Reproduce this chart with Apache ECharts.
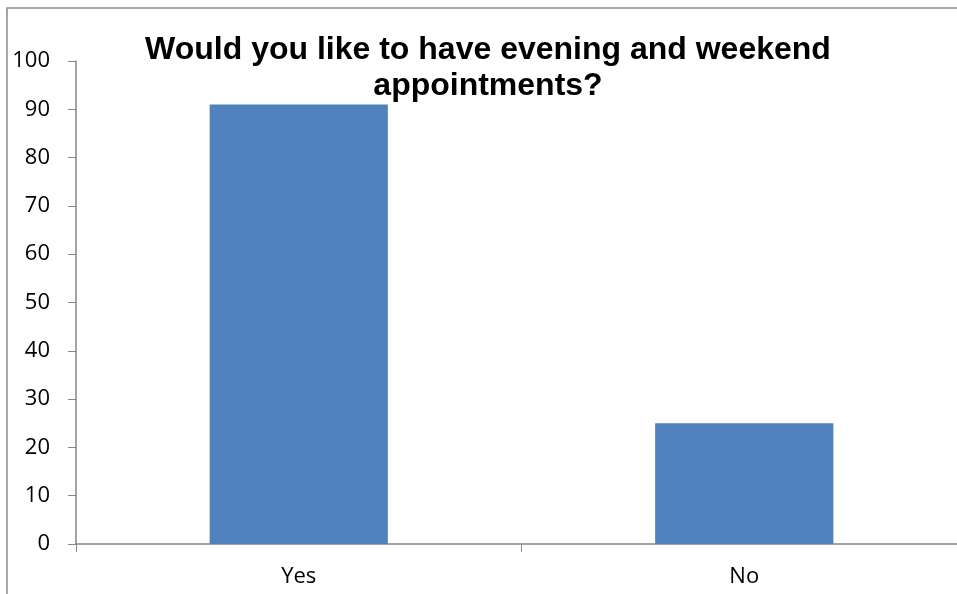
<!DOCTYPE html>
<html>
<head>
<meta charset="utf-8">
<script src="https://cdn.jsdelivr.net/npm/echarts@6/dist/echarts.min.js"></script>
<style>
  html, body { margin: 0; padding: 0; background: #fff; overflow: hidden; }
  #chart { width: 957px; height: 594px; }
</style>
</head>
<body>
<div id="chart"></div>
<script>
// Survey answers
const categories = ['Yes', 'No'];
const responses = [91, 25];

// Value axis range
const yMin = 0;
const yMax = 100;
const yStep = 10;

const chart = echarts.init(document.getElementById('chart'), null, { renderer: 'canvas' });

const axisGray = '#868686';
const labelFont = '"Open Sans", "Liberation Sans", sans-serif';

chart.setOption({
  animation: false,
  backgroundColor: '#ffffff',
  title: {
    text: 'Would you like to have evening and weekend\nappointments?',
    left: 483,
    top: 27,
    textAlign: 'center',
    textStyle: {
      fontFamily: '"Liberation Sans", Arial, sans-serif',
      fontWeight: 'bold',
      fontSize: 32,
      lineHeight: 36,
      color: '#000'
    }
  },
  graphic: [{
    type: 'rect',
    shape: { x: 7, y: 8, width: 1000, height: 1000 },
    style: { fill: 'none', stroke: '#8a8a8a', lineWidth: 1.5 },
    silent: true,
    z: -1
  }],
  // the plot runs past the right edge of the canvas
  grid: { left: 76, top: 61, width: 891, bottom: 50, outerBoundsMode: 'none', containLabel: false },
  xAxis: {
    type: 'category',
    data: categories,
    boundaryGap: true,
    axisLine: { lineStyle: { color: axisGray, width: 1.5 } },
    axisTick: { show: true, length: 8, lineStyle: { color: axisGray } },
    axisLabel: { color: '#000', fontFamily: labelFont, fontSize: 22, margin: 22 }
  },
  yAxis: {
    type: 'value',
    min: yMin,
    max: yMax,
    interval: yStep,
    splitLine: { show: false },
    axisLine: { show: true, lineStyle: { color: axisGray, width: 1.5 } },
    axisTick: { show: true, length: 8, lineStyle: { color: axisGray } },
    axisLabel: { color: '#000', fontFamily: labelFont, fontSize: 22, margin: 26 }
  },
  series: [{
    type: 'bar',
    data: responses,
    barCategoryGap: '60%',
    itemStyle: { color: '#4f81bd' }
  }]
});
</script>
</body>
</html>
